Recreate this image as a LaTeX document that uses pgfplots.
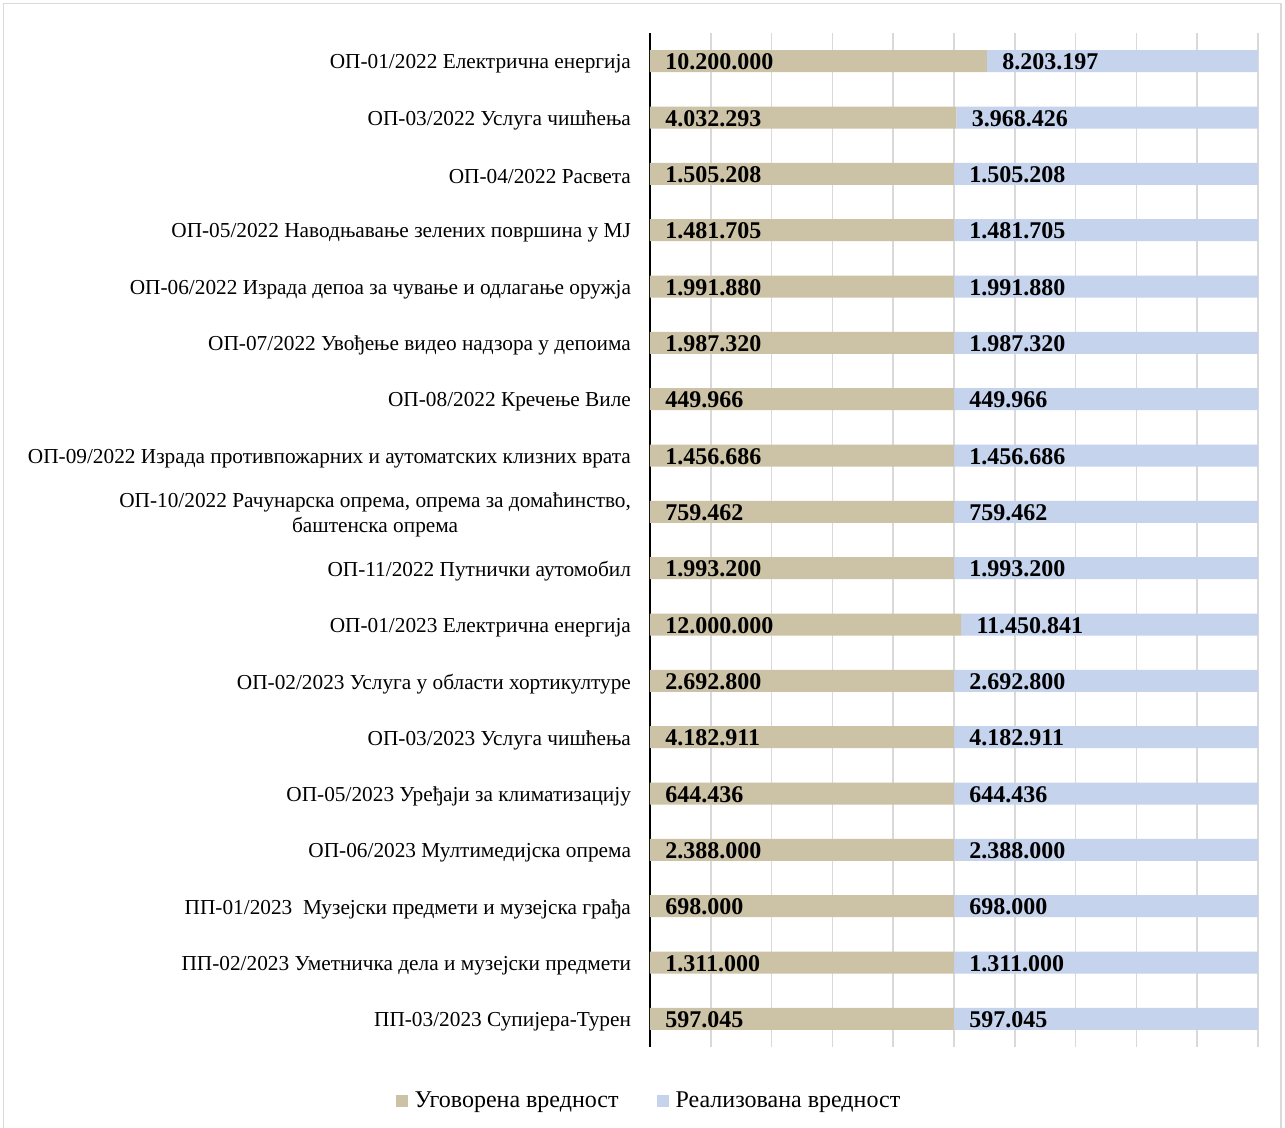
\documentclass[border=0pt]{standalone}
\usepackage{fontspec}
\setmainfont{Liberation Serif}
\usepackage{pgfplots}
\usepackage{pgfplotstable}
\pgfplotsset{compat=1.18}

\definecolor{ugov}{RGB}{204,194,166}
\definecolor{real}{RGB}{197,211,237}
\definecolor{gridgray}{RGB}{217,217,217}

% y = position from the top, ug = Уговорена, re = Реализована
\pgfplotstableread[col sep=comma]{
y,ug,re,ugl,rel
0,10200000,8203197,10.200.000,8.203.197
1,4032293,3968426,4.032.293,3.968.426
2,1505208,1505208,1.505.208,1.505.208
3,1481705,1481705,1.481.705,1.481.705
4,1991880,1991880,1.991.880,1.991.880
5,1987320,1987320,1.987.320,1.987.320
6,449966,449966,449.966,449.966
7,1456686,1456686,1.456.686,1.456.686
8,759462,759462,759.462,759.462
9,1993200,1993200,1.993.200,1.993.200
10,12000000,11450841,12.000.000,11.450.841
11,2692800,2692800,2.692.800,2.692.800
12,4182911,4182911,4.182.911,4.182.911
13,644436,644436,644.436,644.436
14,2388000,2388000,2.388.000,2.388.000
15,698000,698000,698.000,698.000
16,1311000,1311000,1.311.000,1.311.000
17,597045,597045,597.045,597.045
}\nabavke

\begin{document}
\begin{tikzpicture}
\useasboundingbox (0,0) rectangle (642.5pt,-564pt);
\draw[gridgray, line width=0.8pt] (1.75pt,-1.75pt) rectangle (640.5pt,-600pt);

\begin{axis}[
    at={(325pt,-16.5pt)}, anchor=north west,
    scale only axis, width=304pt, height=507pt,
    xbar stacked, bar width=11pt,
    xmin=0, xmax=100, ymin=-0.5, ymax=17.5,
    y dir=reverse,
    ytick={0,...,17},
    yticklabels={
        ОП-01/2022 Електрична енергија,
        ОП-03/2022 Услуга чишћења,
        ОП-04/2022 Расвета,
        ОП-05/2022 Наводњавање зелених површина у МЈ,
        ОП-06/2022 Израда депоа за чување и одлагање оружја,
        ОП-07/2022 Увођење видео надзора у депоима,
        ОП-08/2022 Кречење Виле,
        ОП-09/2022 Израда противпожарних и аутоматских клизних врата,
        {ОП-10/2022 Рачунарска опрема, опрема за домаћинство,\\ баштенска опрема},
        ОП-11/2022 Путнички аутомобил,
        ОП-01/2023 Електрична енергија,
        ОП-02/2023 Услуга у области хортикултуре,
        ОП-03/2023 Услуга чишћења,
        ОП-05/2023 Уређаји за климатизацију,
        ОП-06/2023 Мултимедијска опрема,
        ПП-01/2023\ \ Музејски предмети и музејска грађа,
        ПП-02/2023 Уметничка дела и музејски предмети,
        ПП-03/2023 Супијера-Турен},
    yticklabel style={font=\fontsize{10.65}{12.3}\selectfont, align=center,
        xshift=-6pt, yshift=-1.5pt},
    xtick={0,10,...,100}, xticklabels={},
    xmajorgrids, grid style={gridgray, line width=0.8pt},
    major tick length=0,
    axis lines*=left,
    x axis line style={draw=none},
    y axis line style={black, line width=0.6pt},
    legend style={at={(0,-0.0533)}, anchor=center, draw=none, fill=none,
        legend columns=-1, font=\fontsize{12}{14}\selectfont,
        /tikz/every even column/.append style={column sep=17pt}},
    legend image code/.code={\fill[#1] (0pt,-3pt) rectangle (6pt,3pt);},
]
\addplot[fill=ugov, draw=none] table[x expr={100*\thisrow{ug}/(\thisrow{ug}+\thisrow{re})}, y=y] {\nabavke};
\addplot[fill=real, draw=none] table[x expr={100*\thisrow{re}/(\thisrow{ug}+\thisrow{re})}, y=y] {\nabavke};
\legend{\hspace{1.5pt}Уговорена вредност, \hspace{1.5pt}Реализована вредност}
\end{axis}

\begin{axis}[
    at={(325pt,-16.5pt)}, anchor=north west,
    scale only axis, width=304pt, height=507pt,
    xmin=0, xmax=100, ymin=-0.5, ymax=17.5,
    y dir=reverse, hide axis, clip=false,
    point meta=explicit symbolic,
    nodes near coords,
    nodes near coords align=horizontal,
    every node near coord/.append style={anchor=west, inner sep=0pt, xshift=7.5pt,
        yshift=-0.5pt, font=\bfseries\fontsize{12}{14}\selectfont},
]
\addplot[draw=none] table[x expr=0, y=y, meta=ugl] {\nabavke};
\addplot[draw=none] table[x expr={100*\thisrow{ug}/(\thisrow{ug}+\thisrow{re})}, y=y, meta=rel] {\nabavke};
\end{axis}
\end{tikzpicture}
\end{document}
